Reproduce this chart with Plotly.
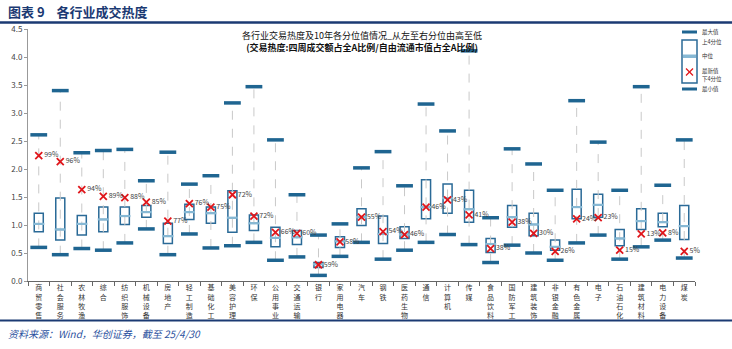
import plotly.graph_objects as go

categories = ["商贸零售", "社会服务", "农林牧渔", "综合", "纺织服饰", "机械设备", "房地产", "轻工制造",
              "基础化工", "美容护理", "环保", "公用事业", "交通运输", "银行", "家用电器", "汽车",
              "钢铁", "医药生物", "通信", "计算机", "传媒", "食品饮料", "国防军工", "建筑装饰",
              "非银金融", "有色金属", "电子", "石油石化", "建筑材料", "电力设备", "煤炭"]
max_vals = [2.61, 3.40, 2.29, 2.33, 2.35, 1.79, 2.30, 1.73, 1.88, 3.18, 3.47, 2.52, 1.54, 0.82, 1.02, 2.02,
            2.31, 1.70, 3.16, 2.68, 4.11, 1.13, 2.36, 2.09, 1.62, 3.22, 2.48, 1.62, 3.47, 1.71, 2.52]
q3_vals = [1.21, 1.48, 1.17, 1.32, 1.32, 1.35, 1.03, 1.37, 1.32, 1.61, 1.18, 0.96, 0.90, 0.33, 0.79, 1.29,
           1.16, 0.97, 1.81, 1.73, 1.62, 0.76, 1.35, 1.21, 0.73, 1.64, 1.55, 0.92, 1.29, 1.21, 1.35]
median_vals = [1.02, 0.92, 1.02, 1.10, 1.16, 1.23, 0.80, 1.23, 1.21, 1.13, 1.03, 0.77, 0.78, 0.30, 0.71, 1.14,
               0.84, 0.83, 1.32, 1.48, 1.28, 0.66, 1.14, 1.01, 0.61, 1.32, 1.36, 0.76, 1.07, 1.05, 0.98]
q1_vals = [0.88, 0.73, 0.82, 0.88, 1.01, 1.14, 0.67, 1.10, 1.03, 0.87, 0.90, 0.61, 0.65, 0.24, 0.60, 0.99,
           0.67, 0.76, 1.11, 1.21, 1.05, 0.51, 0.96, 0.81, 0.55, 1.11, 1.14, 0.63, 0.92, 0.97, 0.74]
min_vals = [0.60, 0.47, 0.58, 0.55, 0.68, 0.93, 0.47, 0.84, 0.59, 0.63, 0.69, 0.37, 0.43, 0.10, 0.44, 0.69,
            0.39, 0.55, 0.69, 0.83, 0.65, 0.33, 0.64, 0.50, 0.37, 0.68, 0.82, 0.39, 0.61, 0.73, 0.41]
latest_vals = [2.24, 2.13, 1.63, 1.51, 1.49, 1.41, 1.07, 1.38, 1.32, 1.54, 1.16, 0.87, 0.85, 0.29, 0.70, 1.14,
               0.88, 0.83, 1.32, 1.45, 1.18, 0.58, 1.05, 0.85, 0.53, 1.11, 1.13, 0.55, 0.84, 0.86, 0.53]
pct_labels = ["99%", "96%", "94%", "89%", "88%", "85%", "77%", "76%", "75%", "72%", "72%", "66%", "60%",
              "59%", "58%", "55%", "54%", "46%", "46%", "43%", "41%", "38%", "38%", "30%", "26%", "24%",
              "23%", "15%", "13%", "8%", "5%"]
y_ticks = [0.0, 0.5, 1.0, 1.5, 2.0, 2.5, 3.0, 3.5, 4.0, 4.5]

FONT = "Noto Sans CJK SC"
DARK = "#1f6591"
BOXLINE = "#2a6a97"
LIGHT = "#86b8d4"
NAVY = "#1b3a73"

W, H = 732, 349
ML, MR, MT, MB = 28, 37, 29, 68


def px(x):
    return (x - ML) / (W - ML - MR)


def py(y):
    return (H - MB - y) / (H - MT - MB)


tick_text = ["<br>".join(list(c)) for c in categories]

fig = go.Figure()

# dashed whiskers
wx, wy = [], []
for c, lo, hi in zip(categories, min_vals, max_vals):
    wx += [c, c, None]
    wy += [lo, hi, None]
fig.add_trace(go.Scatter(x=wx, y=wy, mode="lines", line=dict(color="#c9c9c9", width=1, dash="dash"),
                         hoverinfo="skip", showlegend=False))

# boxes
fig.add_trace(go.Box(x=categories, q1=q1_vals, median=median_vals, q3=q3_vals,
                     lowerfence=q1_vals, upperfence=q3_vals, width=0.42,
                     fillcolor="white", line=dict(color=BOXLINE, width=1.5),
                     whiskerwidth=0, showlegend=False, boxpoints=False))

# median lines (light)
fig.add_trace(go.Scatter(x=categories, y=median_vals, mode="markers",
                         marker=dict(symbol="line-ew", size=8, line=dict(color=LIGHT, width=2.2)),
                         showlegend=False, hoverinfo="skip"))

# max / min bars
for vals in (max_vals, min_vals):
    fig.add_trace(go.Scatter(x=categories, y=vals, mode="markers",
                             marker=dict(symbol="line-ew", size=12, line=dict(color=DARK, width=3.5)),
                             showlegend=False, hoverinfo="skip"))

# latest values
fig.add_trace(go.Scatter(x=categories, y=latest_vals, mode="markers+text", text=pct_labels,
                         textposition="middle right",
                         textfont=dict(family=FONT, size=7, color="#444444"),
                         marker=dict(symbol="x-thin", size=7, line=dict(color="#e0161b", width=1.8)),
                         showlegend=False, hoverinfo="skip", cliponaxis=False))

annotations = [
    dict(text="<b>图表 9    各行业成交热度</b>", x=px(6), y=py(11), xanchor="left", yanchor="middle",
         font=dict(family=FONT, size=13, color=NAVY)),
    dict(text="各行业交易热度及10年各分位值情况_从左至右分位由高至低<br>"
              "<b>(交易热度:四周成交额占全A比例/自由流通市值占全A比例)</b>",
         x=px(362), y=py(41), xanchor="center", yanchor="middle", align="center",
         font=dict(family=FONT, size=9, color="#111111")),
    dict(text="<i>资料来源：Wind，华创证券，截至 25/4/30</i>", x=px(6), y=py(333), xanchor="left",
         yanchor="middle", font=dict(family=FONT, size=10, color="#2c52a0")),
]
leg_items = [("最大值", 32), ("上4分位", 42), ("中位", 56), ("最新值", 70.5), ("下4分位", 78.5), ("最小值", 89)]
for t, yy in leg_items:
    annotations.append(dict(text=t, x=px(700), y=py(yy), xanchor="left", yanchor="middle",
                            font=dict(family=FONT, size=5.5, color="#333333")))
for a in annotations:
    a.update(xref="paper", yref="paper", showarrow=False)

shapes = [
    dict(type="line", x0=px(0), x1=px(732), y0=py(22.5), y1=py(22.5), line=dict(color=NAVY, width=2.5)),
    dict(type="line", x0=px(0), x1=px(732), y0=py(320.5), y1=py(320.5), line=dict(color=NAVY, width=2)),
    dict(type="rect", x0=px(682), x1=px(697), y0=py(30.5), y1=py(33.5), fillcolor=DARK, line=dict(width=0)),
    dict(type="rect", x0=px(682), x1=px(697), y0=py(40), y1=py(83), fillcolor="white",
         line=dict(color=BOXLINE, width=1.5)),
    dict(type="rect", x0=px(683), x1=px(696), y0=py(54.5), y1=py(58), fillcolor=LIGHT, line=dict(width=0)),
    dict(type="line", x0=px(686), x1=px(693), y0=py(68.5), y1=py(75.5), line=dict(color="#e0161b", width=1.3)),
    dict(type="line", x0=px(686), x1=px(693), y0=py(75.5), y1=py(68.5), line=dict(color="#e0161b", width=1.3)),
    dict(type="rect", x0=px(682), x1=px(697), y0=py(87.5), y1=py(90.5), fillcolor=DARK, line=dict(width=0)),
]
for s in shapes:
    s.update(xref="paper", yref="paper")

fig.update_layout(
    width=W, height=H, margin=dict(l=ML, r=MR, t=MT, b=MB),
    paper_bgcolor="white", plot_bgcolor="white",
    font=dict(family=FONT, color="#333333"),
    annotations=annotations, shapes=shapes, showlegend=False,
    xaxis=dict(type="category", categoryorder="array", categoryarray=categories,
               tickmode="array", tickvals=categories, ticktext=tick_text, tickangle=0,
               tickfont=dict(family=FONT, size=7, color="#333333"),
               showline=True, linecolor="#666666", linewidth=1, ticks="outside", tickson="boundaries",
               ticklen=4, tickcolor="#666666", showgrid=False, zeroline=False,
               range=[-0.5, len(categories) - 0.5]),
    yaxis=dict(range=[0, 4.5], tickvals=y_ticks, tickformat=".1f",
               tickfont=dict(family=FONT, size=8, color="#444444"),
               showline=True, linecolor="#999999", linewidth=1, ticks="outside", ticklen=3,
               tickcolor="#999999", showgrid=False, zeroline=False),
)

fig.write_html("out.html")
